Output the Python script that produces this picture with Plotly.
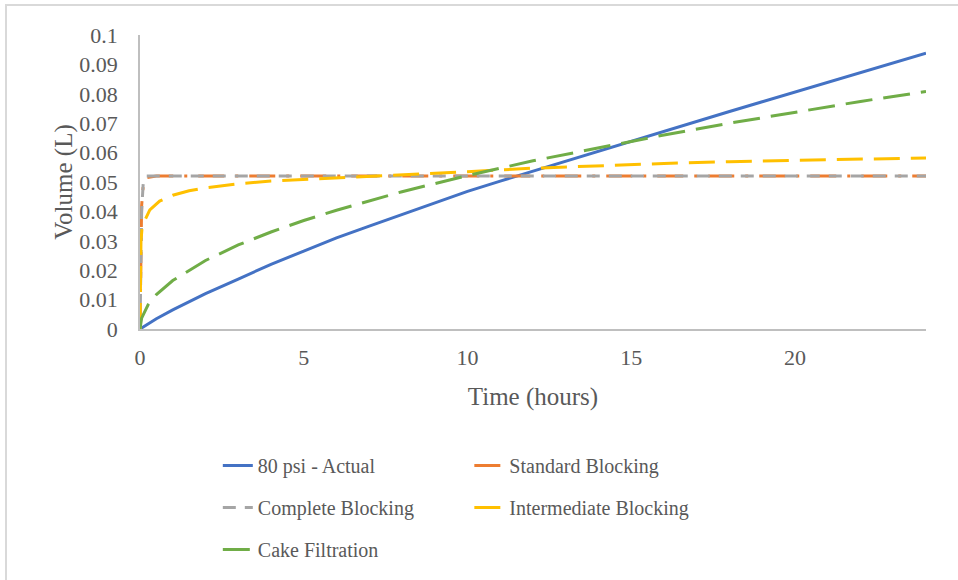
import plotly.graph_objects as go

# ---- data ----
t_actual = [0, 0.5, 1, 2, 3, 4, 5, 6, 7, 8, 9, 10, 11, 12, 13, 14, 15, 16, 17, 18, 19, 20, 21, 22, 23, 24]
v_actual = [0, 0.0035, 0.0065, 0.012, 0.017, 0.022, 0.0265, 0.031, 0.035, 0.039, 0.043, 0.0468,
            0.0503, 0.0537, 0.0571, 0.0605, 0.064, 0.0674, 0.0707, 0.074, 0.0773, 0.0806,
            0.0839, 0.0872, 0.0905, 0.0938]

t_standard = [0, 0.02, 0.05, 0.1, 0.2, 0.5, 1, 2, 4, 8, 12, 16, 20, 24]
v_standard = [0, 0.025, 0.042, 0.049, 0.0515, 0.052, 0.052, 0.052, 0.052, 0.052, 0.052, 0.052, 0.052, 0.052]

t_complete = [0, 0.02, 0.05, 0.1, 0.2, 0.5, 1, 2, 4, 8, 12, 16, 20, 24]
v_complete = [0, 0.02, 0.04, 0.05, 0.052, 0.052, 0.052, 0.052, 0.052, 0.052, 0.052, 0.052, 0.052, 0.052]

t_inter = [0, 0.01, 0.03, 0.06, 0.15, 0.3, 0.6, 1, 1.5, 2, 3, 4, 5, 6, 7, 8, 10, 12, 14, 16, 18, 20, 22, 24]
v_inter = [0, 0.02, 0.03, 0.034, 0.037, 0.0405, 0.0435, 0.0455, 0.047, 0.048, 0.0494, 0.0503,
           0.0508, 0.0513, 0.0518, 0.0524, 0.0535, 0.0547, 0.0556, 0.0563, 0.0569, 0.0574, 0.0578, 0.0582]

t_cake = [0, 0.05, 0.25, 0.5, 1, 2, 3, 4, 5, 6, 8, 10, 12, 14, 16, 18, 20, 22, 24]
v_cake = [0, 0.0037, 0.0083, 0.0117, 0.0165, 0.0233, 0.0286, 0.033, 0.0369, 0.0404, 0.0467,
          0.0522, 0.0572, 0.0617, 0.066, 0.070, 0.0738, 0.0774, 0.0808]

names = ["80 psi - Actual", "Standard Blocking", "Complete Blocking", "Intermediate Blocking", "Cake Filtration"]
x_ticks = [0, 5, 10, 15, 20]
y_ticks = [0, 0.01, 0.02, 0.03, 0.04, 0.05, 0.06, 0.07, 0.08, 0.09, 0.1]
y_tick_text = ["0", "0.01", "0.02", "0.03", "0.04", "0.05", "0.06", "0.07", "0.08", "0.09", "0.1"]

FONT = "Liberation Serif"
TXT = "#595959"

fig = go.Figure()
series = [
    (t_actual, v_actual, names[0], "#4472C4", "solid", "legend", "g1"),
    (t_standard, v_standard, names[1], "#ED7D31", "26px,11px,3px,11px", "legend2", "g2"),
    (t_complete, v_complete, names[2], "#A5A5A5", "13px,9px", "legend", "g3"),
    (t_inter, v_inter, names[3], "#FFC000", "26px,11px", "legend2", "g4"),
    (t_cake, v_cake, names[4], "#70AD47", "27px,11px", "legend", "g5"),
]
for tx, vy, nm, col, dash, lg, grp in series:
    fig.add_trace(go.Scatter(x=tx, y=vy, name=nm, mode="lines",
                             line=dict(color=col, width=3, dash=dash),
                             legend=lg, legendgroup=grp))

legend_common = dict(font=dict(family=FONT, size=20, color=TXT), bgcolor="rgba(0,0,0,0)",
                     orientation="v", xanchor="left", yanchor="top", tracegroupgap=13,
                     itemwidth=30)

px_x = lambda p: (p - 140) / 786
px_y = lambda p: (330 - p) / 295

fig.update_layout(
    width=958, height=580,
    margin=dict(l=140, r=32, t=35, b=250),
    paper_bgcolor="white", plot_bgcolor="white",
    font=dict(family=FONT, color=TXT),
    xaxis=dict(range=[0, 24], tickvals=x_ticks, showgrid=False, zeroline=False,
               showline=True, linecolor="#BFBFBF", linewidth=1.5, ticks="",
               tickfont=dict(family=FONT, size=22, color=TXT), ticklabelstandoff=8,
               title=dict(text="Time (hours)", font=dict(family=FONT, size=25, color=TXT), standoff=18)),
    yaxis=dict(range=[0, 0.1], tickvals=y_ticks, ticktext=y_tick_text, showgrid=False, zeroline=False,
               showline=True, linecolor="#BFBFBF", linewidth=1.5, ticks="",
               tickfont=dict(family=FONT, size=22, color=TXT), ticklabelstandoff=16,
               title=dict(text="Volume (L)", font=dict(family=FONT, size=25, color=TXT), standoff=0)),
    legend=dict(x=0.099, y=-0.393, **legend_common),
    legend2=dict(x=0.419, y=-0.393, **legend_common),
    shapes=[
        dict(type="line", xref="paper", yref="paper", x0=px_x(5), x1=px_x(1000),
             y0=px_y(5), y1=px_y(5), line=dict(color="#D9D9D9", width=2), layer="below"),
        dict(type="line", xref="paper", yref="paper", x0=px_x(6), x1=px_x(6),
             y0=px_y(5), y1=px_y(620), line=dict(color="#D9D9D9", width=2), layer="below"),
    ],
)

fig.write_html("out.html", config={"displayModeBar": False},
               post_script="document.body.style.margin='0';")
